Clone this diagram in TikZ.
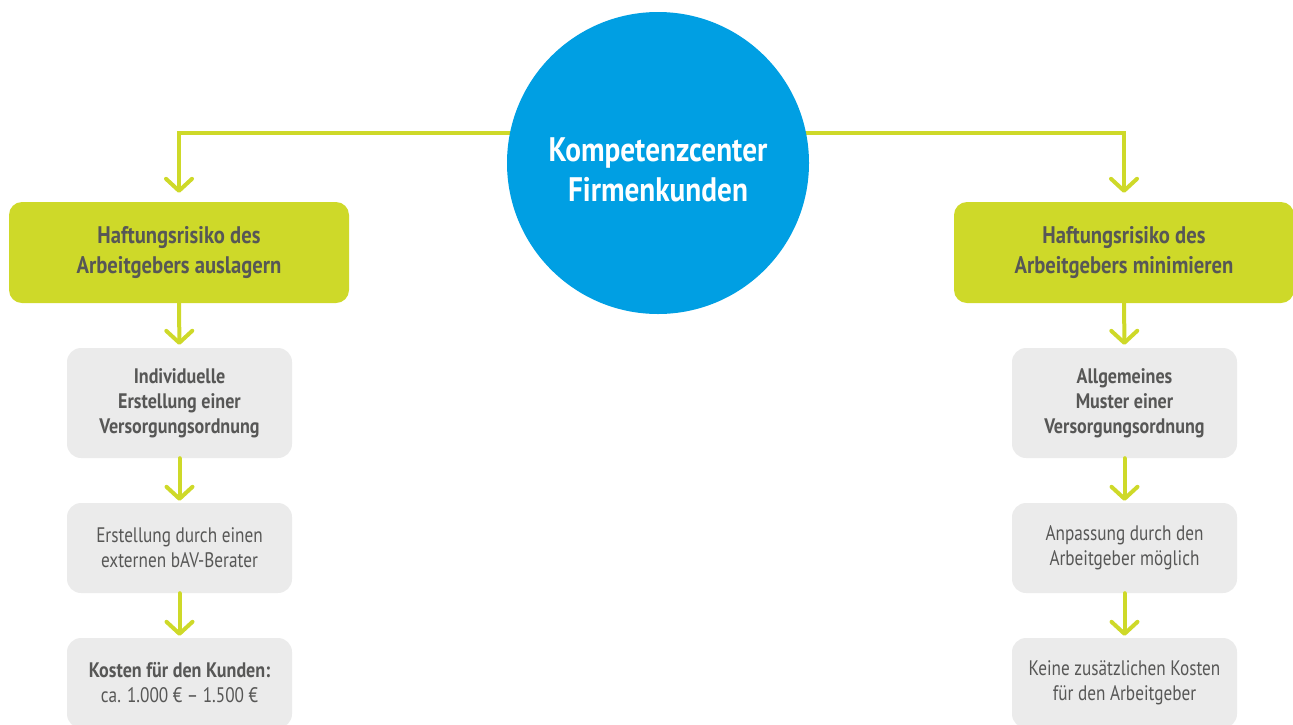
\documentclass[tikz,border=0pt]{standalone}
\usepackage{fontspec}
\setmainfont{PT Sans}[FakeStretch=0.82,BoldFeatures={FakeStretch=0.86}]
\usetikzlibrary{arrows.meta,backgrounds}
\definecolor{kcgreen}{RGB}{206,217,41}
\definecolor{kcblue}{RGB}{0,159,227}
\definecolor{kcgray}{RGB}{235,235,235}
\definecolor{kctext}{RGB}{87,87,86}
\newcommand\stepfont{\fontsize{21}{25}\selectfont}
\begin{document}
\begin{tikzpicture}[x=1pt,y=-1pt,
  hub/.style={circle,fill=kcblue,minimum size=302pt,inner sep=0pt},
  hubtext/.style={text=white,align=center,yshift=-7pt,font=\fontsize{34}{40}\selectfont\bfseries},
  goal/.style={rounded corners=13pt,fill=kcgreen,minimum width=340pt,minimum height=101pt,
    text=kctext,align=center,font=\fontsize{24}{30}\selectfont\bfseries},
  stepbox/.style={rounded corners=14pt,fill=kcgray,minimum width=225pt,minimum height=90pt,
    text=kctext,align=center,font=\stepfont},
  boldstep/.style={stepbox,minimum height=110pt,font=\stepfont\bfseries},
  link/.style={line width=4pt,kcgreen,line cap=round,-{Straight Barb[length=12pt,width=26pt,round]}},
]
\useasboundingbox (0,0) rectangle (1293,724);

\node[hub,label={[hubtext]center:Kompetenzcenter\\Firmenkunden}] (hub) at (658,163) {};

% left branch
\node[goal] (goalL) at (179,252.5) {Haftungsrisiko des\\Arbeitgebers auslagern};
\node[boldstep] (l1) at (179.5,403) {Individuelle\\Erstellung einer\\Versorgungsordnung};
\node[stepbox] (l2) at (179.5,548) {Erstellung durch einen\\externen bAV-Berater};
\node[stepbox] (l3) at (179.5,683) {\textbf{Kosten für den Kunden:}\\ca. 1.000 € – 1.500 €};

% right branch
\node[goal] (goalR) at (1124,252.5) {Haftungsrisiko des\\Arbeitgebers minimieren};
\node[boldstep] (r1) at (1124.5,403) {Allgemeines\\Muster einer\\Versorgungsordnung};
\node[stepbox] (r2) at (1124.5,548) {Anpassung durch den\\Arbeitgeber möglich};
\node[stepbox] (r3) at (1124.5,683) {Keine zusätzlichen Kosten\\für den Arbeitgeber};

\begin{scope}[on background layer]
  \draw[link,shorten >=9pt] ([yshift=30pt]hub.center) -| (goalL.north);
  \draw[link,shorten >=9pt] ([yshift=30pt]hub.center) -| (goalR.north);
\end{scope}

\draw[link,shorten >=3pt] (goalL) -- (l1);
\draw[link,shorten >=2pt] (l1) -- (l2);
\draw[link,shorten >=2pt] (l2) -- (l3);
\draw[link,shorten >=3pt] (goalR) -- (r1);
\draw[link,shorten >=2pt] (r1) -- (r2);
\draw[link,shorten >=2pt] (r2) -- (r3);

\end{tikzpicture}
\end{document}
